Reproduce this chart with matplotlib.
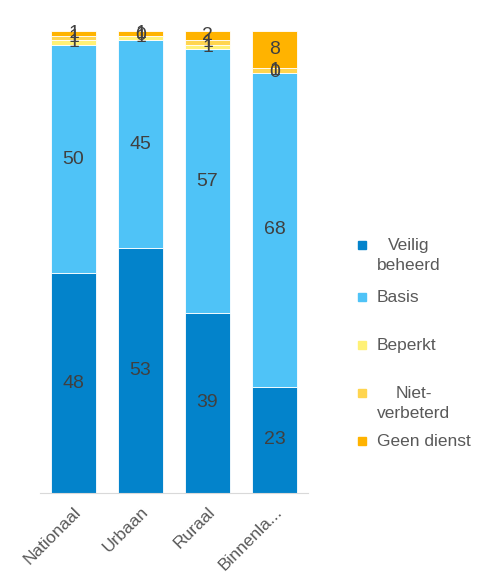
import numpy as np
import matplotlib.pyplot as plt
from matplotlib.patches import Rectangle

plt.rcParams['font.family'] = ['Liberation Sans', 'DejaVu Sans']

categories = ['Nationaal', 'Urbaan', 'Ruraal', 'Binnenla...']
series = ['Veilig\nbeheerd', 'Basis', 'Beperkt', 'Niet-\nverbeterd', 'Geen dienst']
veilig = [48, 53, 39, 23]
basis = [50, 45, 57, 68]
beperkt = [1, 1, 1, 0]
niet_verbeterd = [1, 0, 1, 1]
geen_dienst = [1, 1, 2, 8]
colors = ['#0383CB', '#4FC3F7', '#FFF176', '#FFD54F', '#FFB300']

data = np.array([veilig, basis, beperkt, niet_verbeterd, geen_dienst], dtype=float)
share = data / data.sum(axis=0) * 100  # 100% stacked, like the Excel original
x = np.arange(len(categories))

W, H = 484, 573
fig = plt.figure(figsize=(W / 100, H / 100), dpi=100)
ax = fig.add_axes([40 / W, 1 - 493 / H, 268 / W, 462 / H])

bottom = np.zeros(len(categories))
for vals, pct, col in zip(data, share, colors):
    bars = ax.bar(x, pct, width=0.67, bottom=bottom, color=col,
                  edgecolor='white', linewidth=0.6)
    for b, v, p, y0 in zip(bars, vals, pct, bottom):
        ax.text(b.get_x() + b.get_width() / 2, y0 + p / 2, '%d' % v,
                ha='center', va='center', fontsize=14, color='#404040')
    bottom += pct

ax.set_xlim(-0.5, 3.5)
ax.set_ylim(0, 100)
ax.set_xticks(x)
ax.set_xticklabels(categories, rotation=45, ha='right', rotation_mode='anchor',
                   fontsize=12.5, color='#595959')
ax.tick_params(axis='x', length=0, pad=8)
ax.set_yticks([])
for s in ['top', 'right', 'left']:
    ax.spines[s].set_visible(False)
ax.spines['bottom'].set_color('#d9d9d9')

# legend, Excel style: marker next to the first line of each label
leg_y = [245, 297, 345, 393, 441]
for name, col, yy in zip(series, colors, leg_y):
    fig.patches.append(Rectangle(((362 - 4) / W, 1 - (yy + 4) / H), 8 / W, 8 / H,
                                 transform=fig.transFigure, color=col))
    fig.text(377 / W, 1 - (yy - 7) / H, name, ha='left', va='top',
             multialignment='center', fontsize=12.5, color='#595959',
             linespacing=1.45)

fig.savefig('out.png', dpi=100)
